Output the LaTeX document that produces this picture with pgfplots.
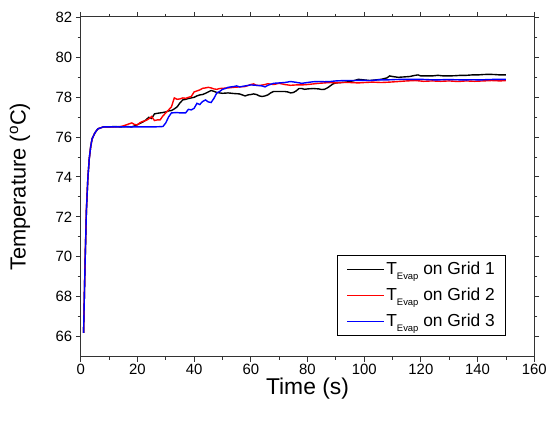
\documentclass[border=0pt]{standalone}
\usepackage{pgfplots}
\pgfplotsset{compat=1.18}
\usepackage{fontspec}
\setmainfont{Liberation Sans}

\newcommand{\Tev}{T\raisebox{-0.5ex}{\fontsize{9.5}{9.5}\selectfont Evap}}

\begin{document}
\begin{tikzpicture}
\begin{axis}[
    name=ax,
    scale only axis,
    width=455bp, height=341bp,
    xmin=0, xmax=160,
    ymin=65, ymax=82,
    xtick={0,20,...,160},
    ytick={66,68,...,82},
    minor x tick num=1,
    minor y tick num=1,
    tick align=outside,
    major tick length=5bp,
    minor tick length=3bp,
    axis line style={line width=0.9bp, black!80},
    every tick/.style={line width=0.8bp, black!80},
    tick label style={font=\fontsize{15}{17}\selectfont},
    xticklabel style={yshift=1.5bp},
    /pgf/number format/assume math mode=true,
    xlabel={Time (s)},
    ylabel={Temperature (\textsuperscript{o}C)},
    xlabel style={font=\fontsize{23}{26}\selectfont, at={(axis description cs:0.5,-0.092)}, anchor=center},
    ylabel style={font=\fontsize{22}{25}\selectfont, at={(axis description cs:-0.134,0.5)}, anchor=center},
    legend style={draw=black, line width=0.8bp, at={(0.938,0.062)}, anchor=south east,
        font=\fontsize{17.5}{19}\selectfont, row sep=8bp, inner xsep=9bp, inner ysep=5bp},
    legend cell align=left,
    legend image code/.code={\fill[#1, draw=none] (0bp,-0.75bp) rectangle (38bp,0.75bp);},
    every axis plot/.append style={line width=1.4bp},
]

\addlegendimage{fill=black}
\addlegendentry{\Tev\ on Grid 1}
\addlegendimage{fill=red}
\addlegendentry{\Tev\ on Grid 2}
\addlegendimage{fill=blue}
\addlegendentry{\Tev\ on Grid 3}

\addplot[black, forget plot] coordinates {
(1,66.2) (1.5,69.5) (2,72.3) (2.5,73.9) (3,74.9) (3.5,75.5) (4,75.9) (5,76.2) (6,76.4) (7,76.45) (8,76.5) (10,76.5) (12,76.52) (14,76.5) (16,76.52) (18,76.5) (19,76.55) (20,76.62) (21,76.68) (22,76.75) (23,76.85) (24,76.98) (25,76.92) (26,77.15) (27,77.18) (28,77.2) (29,77.22) (30,77.25) (31,77.3) (32,77.32) (33,77.4) (34,77.5) (35,77.7) (36,77.85) (37,77.88) (38,77.92) (39,77.95) (40,77.98) (41,78.05) (42,78.1) (43,78.12) (44,78.18) (45,78.25) (46,78.32) (47,78.28) (48,78.22) (49,78.2) (50,78.18) (52,78.2) (54,78.17) (56,78.15) (57,78.1) (58,78.05) (59,78.1) (60,78.12) (61,78.15) (62,78.12) (63,78.05) (64,78.02) (65,78.05) (66,78.1) (67,78.2) (68,78.27) (70,78.27) (72,78.27) (73,78.25) (74,78.2) (75,78.22) (76,78.3) (77,78.42) (78,78.42) (79,78.38) (80,78.4) (82,78.42) (84,78.4) (85,78.37) (86,78.38) (87,78.45) (88,78.55) (89,78.65) (90,78.7) (92,78.72) (94,78.75) (96,78.8) (98,78.88) (100,78.85) (102,78.82) (104,78.85) (106,78.88) (108,78.95) (109,79.05) (110,79.02) (112,78.98) (114,79.0) (116,79.02) (118,79.08) (119,79.1) (120,79.05) (122,79.05) (124,79.05) (126,79.08) (128,79.05) (130,79.05) (132,79.06) (134,79.08) (136,79.08) (138,79.1) (140,79.1) (142,79.12) (144,79.13) (146,79.12) (148,79.1) (150,79.1)
};

\addplot[red, forget plot] coordinates {
(1,66.2) (1.5,69.6) (2,72.4) (2.5,73.9) (3,74.9) (3.5,75.5) (4,75.9) (5,76.2) (6,76.4) (7,76.45) (8,76.5) (10,76.5) (12,76.5) (14,76.52) (15,76.55) (16,76.6) (17,76.65) (18,76.7) (19,76.62) (20,76.6) (21,76.72) (22,76.78) (23,76.82) (24,76.9) (25,77.02) (26,76.82) (27,76.85) (28,76.85) (29,77.05) (30,77.2) (31,77.35) (32,77.5) (33,77.95) (34,77.88) (35,77.9) (36,77.95) (37,77.93) (38,77.98) (39,78.02) (40,78.25) (41,78.3) (42,78.35) (43,78.43) (44,78.45) (45,78.48) (46,78.45) (47,78.4) (48,78.38) (49,78.42) (50,78.43) (52,78.45) (54,78.48) (56,78.5) (58,78.52) (60,78.62) (61,78.65) (62,78.58) (63,78.57) (65,78.62) (66,78.66) (68,78.62) (70,78.68) (72,78.62) (74,78.58) (76,78.6) (78,78.6) (80,78.62) (82,78.65) (84,78.68) (86,78.7) (88,78.72) (90,78.7) (92,78.72) (95,78.72) (98,78.7) (100,78.72) (103,78.74) (106,78.72) (109,78.74) (112,78.77) (115,78.8) (118,78.82) (121,78.78) (124,78.8) (127,78.78) (130,78.8) (133,78.77) (136,78.8) (139,78.78) (142,78.8) (145,78.82) (148,78.8) (150,78.82)
};

\addplot[blue, forget plot] coordinates {
(1,66.2) (1.5,69.5) (2,72.3) (2.5,73.9) (3,74.9) (3.5,75.5) (4,75.9) (5,76.2) (6,76.4) (7,76.45) (8,76.5) (10,76.5) (14,76.5) (18,76.5) (22,76.5) (26,76.5) (29,76.52) (30,76.7) (31,77.0) (32,77.2) (34,77.22) (35,77.2) (37,77.2) (38,77.38) (39,77.35) (40,77.43) (41,77.68) (42,77.62) (43,77.77) (44,77.85) (45,77.75) (46,77.72) (47,77.93) (48,78.2) (49,78.27) (50,78.38) (51,78.42) (52,78.48) (54,78.52) (55,78.55) (56,78.5) (58,78.55) (60,78.6) (62,78.58) (64,78.55) (65,78.5) (66,78.58) (68,78.68) (70,78.7) (72,78.72) (74,78.77) (76,78.73) (78,78.68) (80,78.72) (82,78.76) (84,78.77) (86,78.76) (88,78.77) (90,78.8) (93,78.82) (96,78.82) (99,78.83) (102,78.82) (105,78.85) (108,78.85) (111,78.87) (114,78.88) (117,78.88) (120,78.88) (123,78.86) (126,78.85) (129,78.87) (132,78.86) (135,78.85) (138,78.86) (141,78.85) (144,78.87) (147,78.88) (150,78.88)
};

\end{axis}
\path ([shift={(-81bp,-66bp)}]ax.south west) rectangle ([shift={(14bp,17bp)}]ax.north east);
\end{tikzpicture}
\end{document}
